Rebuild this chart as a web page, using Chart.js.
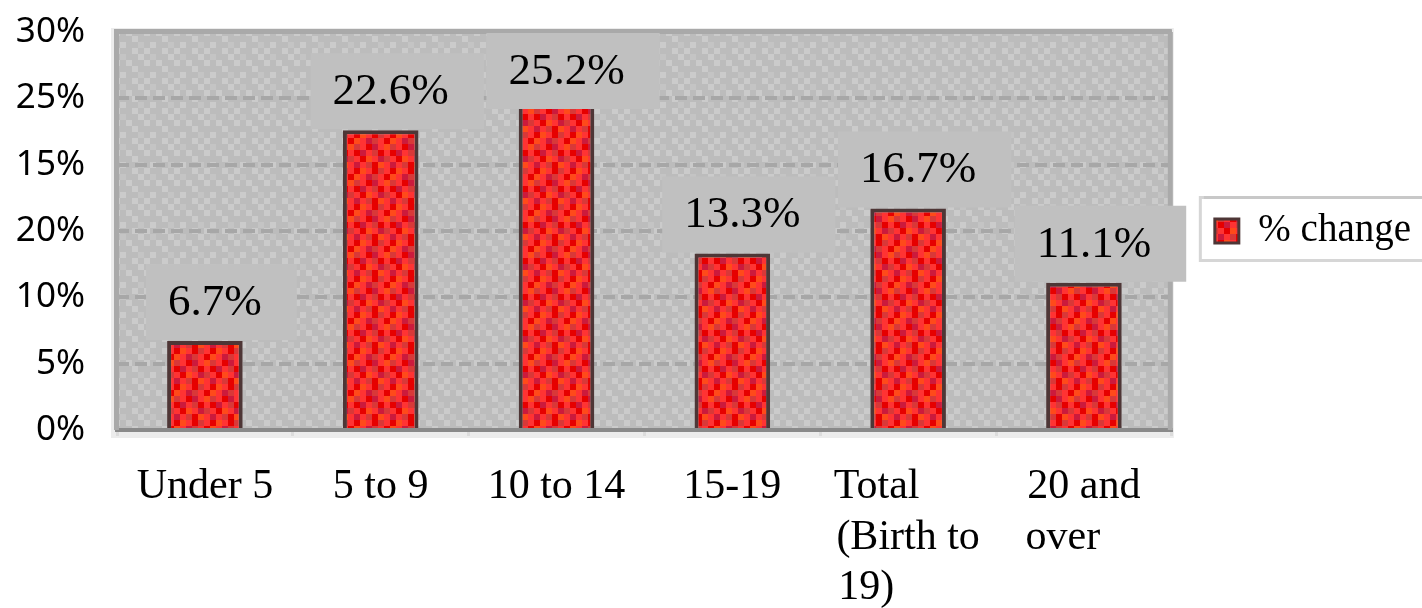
<!DOCTYPE html>
<html><head><meta charset="utf-8">
<script src="https://cdn.jsdelivr.net/npm/chart.js@4.4.1/dist/chart.umd.min.js"></script>
<style>html,body{margin:0;padding:0;background:#fff}#wrap{width:1422px;height:608px}</style>
</head><body><div id="wrap"><canvas id="c" width="1422" height="608"></canvas></div>
<script>
// ---- data ----
const categories = ['Under 5', '5 to 9', '10 to 14', '15-19', ['Total', '(Birth to', '19)'], ['20 and', 'over']];
const pctChange = [6.7, 22.6, 25.2, 13.3, 16.7, 11.1];
const yTickValues = [0, 5, 10, 15, 20, 25, 30];
const yTickLabels = ['0%', '5%', '10%', '20%', '15%', '25%', '30%'];
const seriesName = '% change';

// ---- style helpers ----
function tilePattern(rows, palette, cell) {
  const c = document.createElement('canvas');
  c.width = rows[0].length * cell; c.height = rows.length * cell;
  const g = c.getContext('2d');
  rows.forEach((r, y) => { for (let x = 0; x < r.length; x++) { g.fillStyle = palette[r[x]]; g.fillRect(x * cell, y * cell, cell, cell); } });
  return document.getElementById('c').getContext('2d').createPattern(c, 'repeat');
}
const barPattern = tilePattern([
  'ABCADE', 'CAEBAB', 'BDACEA', 'AEBDAC', 'DABEAB', 'ACEABD'
], { A: '#ff3333', B: '#e60000', C: '#cc1a3c', D: '#ff4a1a', E: '#d93838' }, 6);
const plotPattern = tilePattern([
  'ABAAB', 'AABAA', 'BAACA', 'AABAB', 'CAABA'
], { A: '#bcbcbc', B: '#cbcbcb', C: '#c4c4c4' }, 6);

const measureCtx = document.createElement('canvas').getContext('2d');
const xFont = { family: 'Liberation Serif', size: 42, lineHeight: 1.2 };

function padLines(lbl) {
  if (!Array.isArray(lbl)) return lbl;
  measureCtx.font = xFont.size + 'px "' + xFont.family + '"';
  const maxW = Math.max(...lbl.map(s => measureCtx.measureText(s).width));
  const sp = measureCtx.measureText(' ').width;
  return lbl.map(s => { let t = s; while (measureCtx.measureText(t).width + sp / 2 < maxW) t += ' '; return t; });
}

const bgPlugin = {
  id: 'bg',
  beforeDraw(chart) {
    const { ctx, chartArea: a } = chart;
    ctx.save();
    ctx.fillStyle = '#ffffff';
    ctx.fillRect(0, 0, chart.width, chart.height);
    ctx.fillStyle = '#ececec';
    ctx.fillRect(a.left - 6, a.top - 4, a.right - a.left + 8, a.bottom - a.top + 12);
    ctx.fillStyle = plotPattern;
    ctx.fillRect(a.left, a.top, a.right - a.left, a.bottom - a.top);
    // legend frame
    const hb = chart.legend && chart.legend.legendHitBoxes && chart.legend.legendHitBoxes[0];
    if (hb) {
      const cy = hb.top + hb.height / 2;
      const fx = hb.left - 16, fy = cy - 35;
      ctx.fillStyle = '#ffffff';
      ctx.fillRect(fx, fy, chart.width - fx + 4, 66);
      ctx.strokeStyle = '#d6d6d6';
      ctx.lineWidth = 3;
      ctx.strokeRect(fx + 1.5, fy + 1.5, chart.width - fx + 4, 63);
      ctx.fillStyle = '#c8c8c8';
      ctx.fillRect(fx + 5, fy, chart.width - fx, 3);
    }
    ctx.restore();
  },
  beforeDatasetsDraw(chart) {
    const { ctx, chartArea: a } = chart;
    ctx.save();
    ctx.fillStyle = '#a9a9a9';
    ctx.fillRect(a.left - 3, a.top - 3, a.right - a.left + 3, 5);
    ctx.fillRect(a.left - 3, a.top, 5, a.bottom - a.top);
    ctx.fillStyle = '#aaaaaa';
    ctx.fillRect(a.right - 4, a.top, 5, a.bottom - a.top);
    ctx.restore();
  }
};

const labelPlugin = {
  id: 'valueBoxes',
  afterDatasetsDraw(chart) {
    const { ctx, chartArea: a } = chart;
    const meta = chart.getDatasetMeta(0);
    ctx.save();
    ctx.font = '45px "Liberation Serif"';
    ctx.textAlign = 'center';
    ctx.textBaseline = 'middle';
    meta.data.forEach((bar, i) => {
      const txt = pctChange[i].toFixed(1) + '%';
      const w = ctx.measureText(txt).width;
      const cx = bar.x + 10;
      const left = cx - w / 2 - 22, right = cx + w / 2 + 35;
      let bottom = bar.y - 1, top = bottom - 76;
      if (top < a.top + 1) { top = a.top + 1; bottom = top + 76; }
      ctx.fillStyle = '#c0c0c0';
      ctx.fillRect(left, top, right - left, bottom - top);
      ctx.fillStyle = '#000000';
      ctx.fillText(txt, cx, (top + bottom) / 2 + 1);
    });
    ctx.restore();
  }
};

new Chart(document.getElementById('c'), {
  type: 'bar',
  data: {
    labels: categories,
    datasets: [{
      label: seriesName,
      data: pctChange,
      backgroundColor: barPattern,
      borderColor: '#4e3636',
      borderWidth: { top: 4, left: 4, right: 4, bottom: 0 },
      barPercentage: 0.43,
      categoryPercentage: 1
    }]
  },
  options: {
    responsive: false,
    animation: false,
    devicePixelRatio: 1,
    layout: { padding: { top: 32, right: 1, bottom: 0, left: 0 } },
    plugins: {
      legend: {
        position: 'right',
        fullSize: false,
        labels: { font: { family: 'Liberation Serif', size: 39 }, color: '#000', boxWidth: 24, boxHeight: 24, padding: 43 }
      },
      tooltip: { enabled: false }
    },
    scales: {
      x: {
        afterFit: (s) => { s.height = 178; },
        grid: { display: true, drawOnChartArea: false, tickLength: 6, color: '#dcdcdc', lineWidth: 3 },
        border: { color: '#8a8a8a', width: 4 },
        ticks: {
          autoSkip: false, maxRotation: 0, minRotation: 0,
          font: xFont, color: '#000', padding: 26,
          callback: function (v) { return padLines(this.getLabelForValue(v)); }
        }
      },
      y: {
        min: 0, max: 30,
        afterBuildTicks: (s) => { s.ticks = yTickValues.map(v => ({ value: v })); },
        afterFit: (s) => { s.width = 117; },
        ticks: {
          callback: (v) => yTickLabels[yTickValues.indexOf(v)],
          font: { family: 'Noto Sans', size: 35 }, color: '#000', padding: 0
        },
        grid: { color: '#a7a7a7', lineWidth: 4, drawTicks: true, tickLength: 32, tickColor: 'rgba(0,0,0,0)' },
        border: { display: false, dash: [12, 6] }
      }
    }
  },
  plugins: [bgPlugin, labelPlugin]
});
</script>
</body></html>
